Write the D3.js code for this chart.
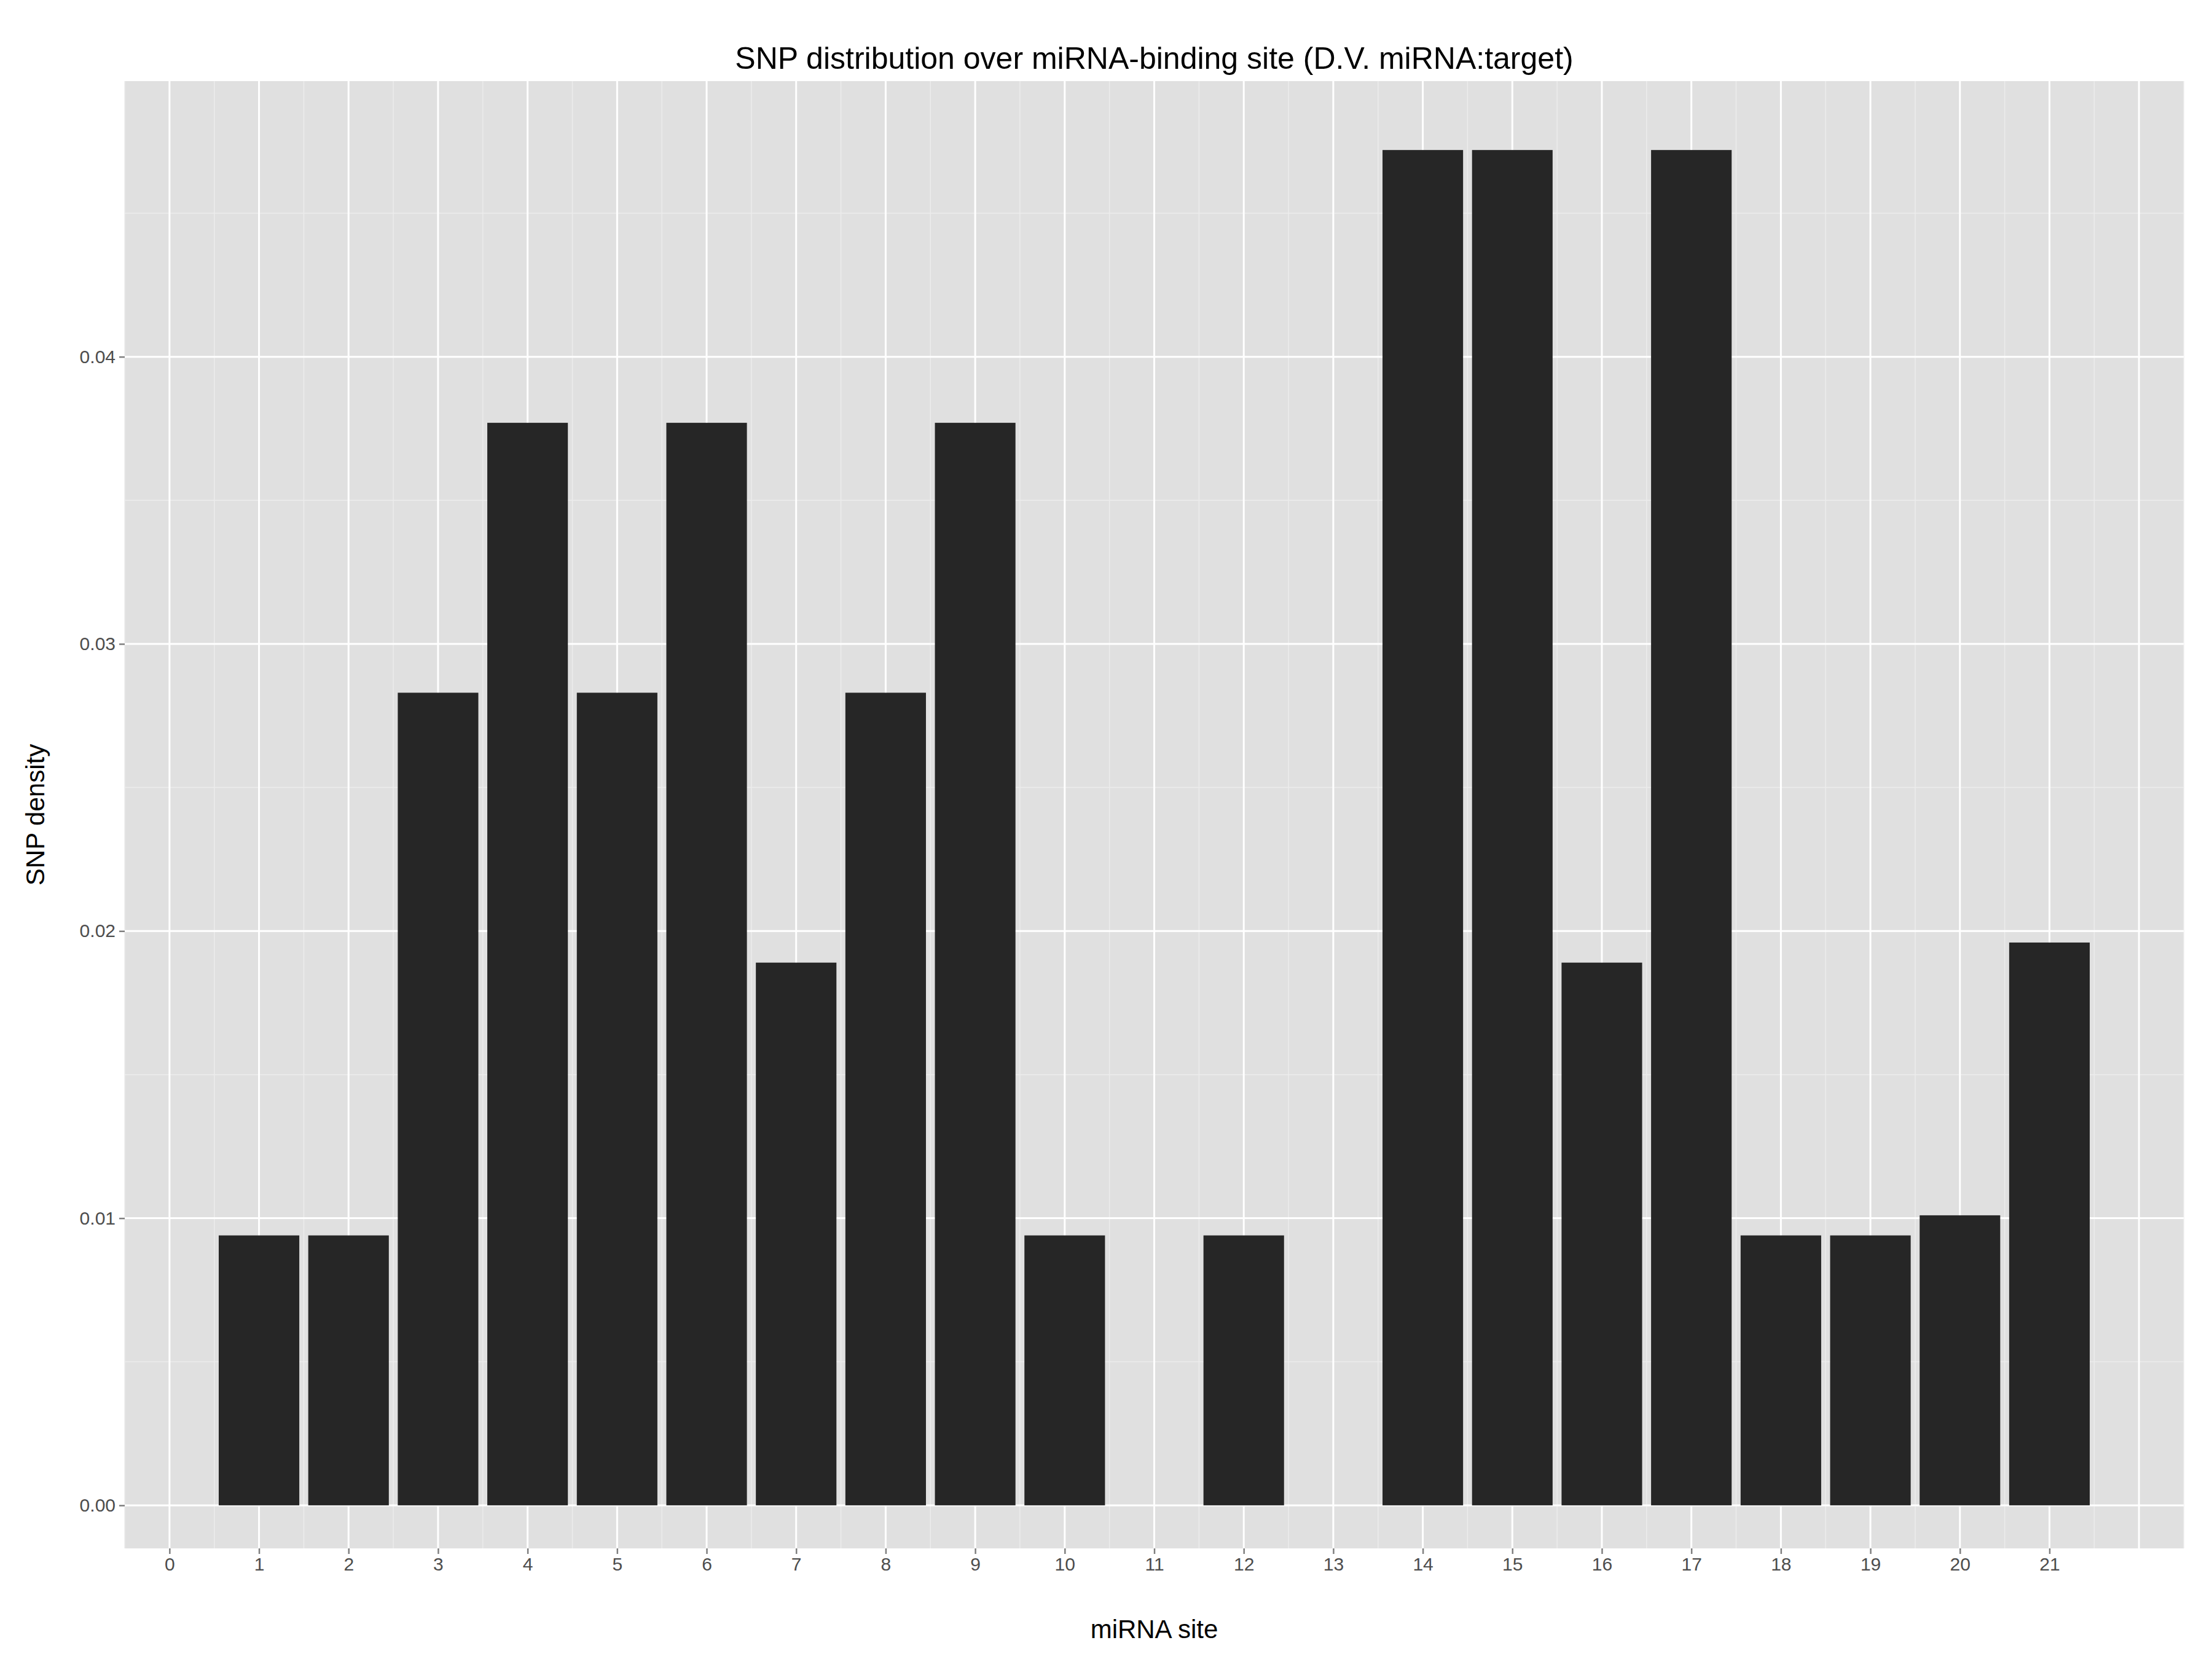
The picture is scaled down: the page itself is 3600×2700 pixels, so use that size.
<!DOCTYPE html>
<html><head><meta charset="utf-8">
<script src="https://cdn.jsdelivr.net/npm/d3@7"></script>
<style>body{margin:0;background:#fff}</style>
</head><body>
<div class="canvas"></div>
<script>
// data
const sites = [1,2,3,4,5,6,7,8,9,10,12,14,15,16,17,18,19,20,21];
const density = [0.0094,0.0094,0.0283,0.0377,0.0283,0.0377,0.0189,0.0283,0.0377,0.0094,0.0094,
  0.0472,0.0472,0.0189,0.0472,0.0094,0.0094,0.0101,0.0196];
const xTicks = d3.range(0, 22);
const yTicks = [0, 0.01, 0.02, 0.03, 0.04];

const W = 3600, H = 2700;
const margin = {top: 132, right: 46, bottom: 180, left: 203};
const gw = W - margin.left - margin.right;
const gh = H - margin.top - margin.bottom;

const svg = d3.select('.canvas').append('svg')
  .attr('width', W).attr('height', H)
  .style('font-family', 'Liberation Sans, Arial, sans-serif');

const graph = svg.append('g').attr('transform', `translate(${margin.left}, ${margin.top})`);

const x = d3.scaleLinear().domain([-0.5, 22.5]).range([0, gw]);
const y = d3.scaleLinear().domain([-0.0015, 0.0496]).range([gh, 0]);

graph.append('rect').attr('width', gw).attr('height', gh).attr('fill', '#e0e0e0');

// minor grid
graph.selectAll('.vminor').data(d3.range(-0.5, 23, 1)).enter().append('line')
  .attr('x1', d => x(d)).attr('x2', d => x(d)).attr('y1', 0).attr('y2', gh)
  .attr('stroke', '#ececec').attr('stroke-width', 1.5);
graph.selectAll('.hminor').data([0.005, 0.015, 0.025, 0.035, 0.045]).enter().append('line')
  .attr('y1', d => y(d)).attr('y2', d => y(d)).attr('x1', 0).attr('x2', gw)
  .attr('stroke', '#ececec').attr('stroke-width', 1.5);
// major grid
graph.selectAll('.vmajor').data(d3.range(0, 23)).enter().append('line')
  .attr('x1', d => x(d)).attr('x2', d => x(d)).attr('y1', 0).attr('y2', gh)
  .attr('stroke', '#fff').attr('stroke-width', 3);
graph.selectAll('.hmajor').data(yTicks).enter().append('line')
  .attr('y1', d => y(d)).attr('y2', d => y(d)).attr('x1', 0).attr('x2', gw)
  .attr('stroke', '#fff').attr('stroke-width', 3);

// bars
graph.selectAll('.bar').data(sites).enter().append('rect')
  .attr('x', d => x(d - 0.45))
  .attr('width', x(0.9) - x(0))
  .attr('y', (d, i) => y(density[i]))
  .attr('height', (d, i) => y(0) - y(density[i]))
  .attr('fill', '#262626');

// axes
const xAxis = d3.axisBottom(x).tickValues(xTicks).tickFormat(d3.format('d')).tickSize(9).tickPadding(6);
const yAxis = d3.axisLeft(y).tickValues(yTicks).tickFormat(d3.format('.2f')).tickSize(9).tickPadding(6);
const xg = graph.append('g').attr('transform', `translate(0, ${gh})`).call(xAxis);
const yg = graph.append('g').call(yAxis);
[xg, yg].forEach(g => {
  g.select('.domain').remove();
  g.selectAll('line').attr('stroke', '#7f7f7f').attr('stroke-width', 2.5);
  g.selectAll('text').attr('fill', '#4d4d4d').style('font-size', '30px');
});

svg.append('text').attr('x', margin.left + gw / 2).attr('y', 112)
  .attr('text-anchor', 'middle').style('font-size', '50px')
  .text('SNP distribution over miRNA-binding site (D.V. miRNA:target)');
svg.append('text').attr('x', margin.left + gw / 2).attr('y', 2666)
  .attr('text-anchor', 'middle').style('font-size', '42px').text('miRNA site');
svg.append('text').attr('transform', `translate(72, ${margin.top + gh / 2}) rotate(-90)`)
  .attr('text-anchor', 'middle').style('font-size', '42px').text('SNP density');
</script>
</body></html>
